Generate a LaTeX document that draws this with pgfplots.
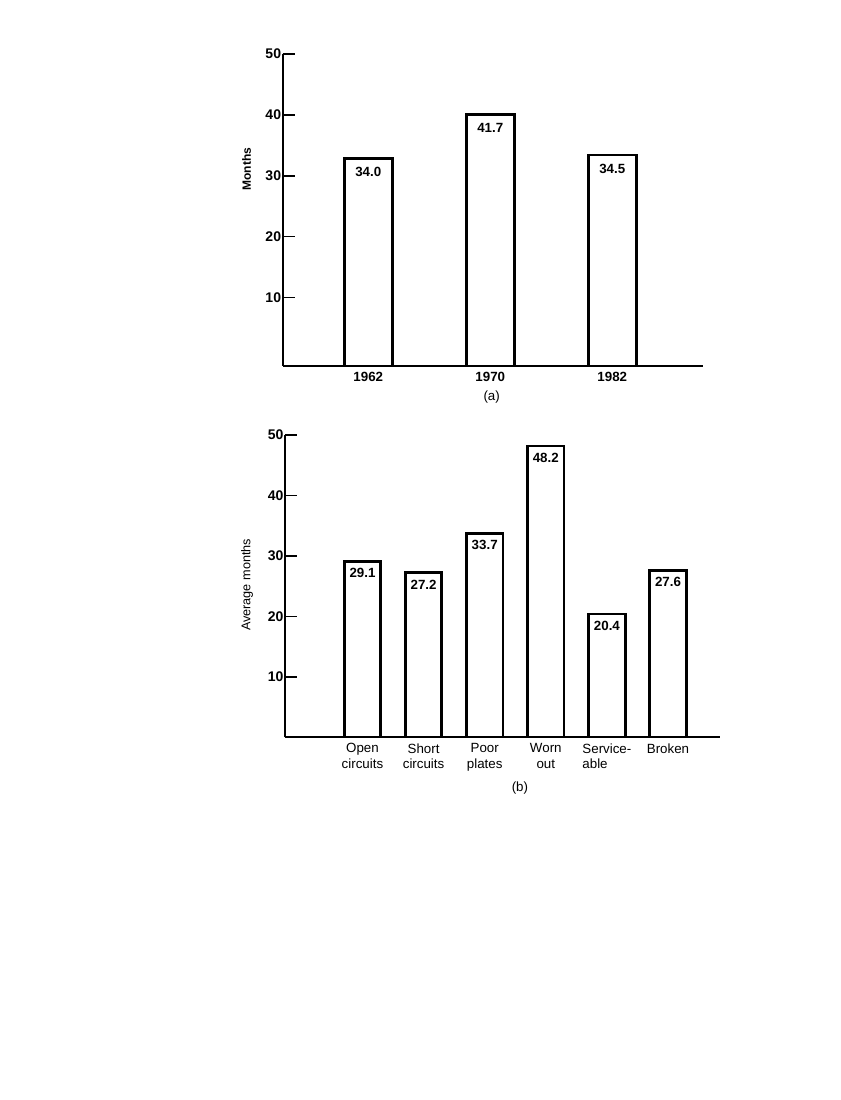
\documentclass[border=0pt]{standalone}
\usepackage{fontspec}
\setmainfont{Liberation Sans}
\usepackage{pgfplots}
\pgfplotsset{compat=1.18}
\tikzset{vlab/.style={font=\fontsize{10}{12}\selectfont\bfseries, anchor=north, inner sep=0pt}}
\begin{document}
\begin{tikzpicture}
\useasboundingbox (0pt,0pt) rectangle (630pt,-825pt);
\pgfplotsset{
  common/.style={
    scale only axis,
    axis on top,
    axis x line*=bottom,
    axis y line*=left,
    axis line style={line width=1.3pt, -},
    tick align=inside,
    major tick length=9pt,
    ytick={10,20,30,40,50},
    ytick style={line width=1.1pt, black},
    xtick style={draw=none},
    /pgf/number format/assume math mode=true,
    yticklabel style={font=\fontsize{10.5}{12}\selectfont\bfseries, inner sep=1pt},
    xticklabel style={inner sep=0pt, anchor=north, yshift=-4.5pt},
    xlabel style={font=\fontsize{10}{12}\selectfont, anchor=center},
  },
  barstyle/.style={draw=black, line width=2.1pt, fill=white, line join=miter, mark=none},
}
% ---------- (a) ----------
\begin{axis}[common,
  at={(212.0pt,-274.3pt)}, anchor=south west,
  width=315.45pt, height=233.8pt,
  xmin=0.298, xmax=3.746, ymin=-1.2, ymax=50,
  xtick={1,2,3}, xticklabels={1962,1970,1982},
  xticklabel style={font=\fontsize{10}{12}\selectfont\bfseries},
  ylabel={Months},
  ylabel style={at={(axis description cs:-0.0856,0.631)}, anchor=center, font=\fontsize{9}{11}\selectfont\bfseries},
  xlabel={(a)},
  xlabel style={at={(axis description cs:0.497,-0.0995)}},
]
\addplot[barstyle] coordinates {(0.803,-1.2) (0.803,32.8) (1.197,32.8) (1.197,-1.2)};
\addplot[barstyle] coordinates {(1.803,-1.2) (1.803,40.1) (2.197,40.1) (2.197,-1.2)};
\addplot[barstyle] coordinates {(2.803,-1.2) (2.803,33.4) (3.197,33.4) (3.197,-1.2)};
\node[vlab, yshift=-6.5pt] at (axis cs:1,32.8) {34.0};
\node[vlab, yshift=-6.5pt] at (axis cs:2,40.1) {41.7};
\node[vlab, yshift=-6.5pt] at (axis cs:3,33.4) {34.5};
\end{axis}
% ---------- (b) ----------
\begin{axis}[common,
  at={(213.75pt,-552.98pt)}, anchor=south west,
  width=326.25pt, height=226.7pt,
  xmin=-0.268, xmax=6.851, ymin=0, ymax=50,
  xtick={1,2,3,4,5,6},
  xticklabels={Open\\circuits, Short\\circuits, Poor\\plates, Worn\\out, Service-\\able\rule{1.78em}{0pt}, Broken},
  xticklabel style={font=\fontsize{10}{11.5}\selectfont, align=center},
  ylabel={Average months},
  ylabel style={at={(axis description cs:-0.0874,0.504)}, anchor=center, font=\fontsize{9.5}{11}\selectfont},
  xlabel={(b)},
  xlabel style={at={(axis description cs:0.540,-0.169)}},
]
\addplot[ybar, bar width=27.4pt, barstyle] coordinates {(1,29.1) (2,27.2) (3,33.7) (4,48.2) (5,20.4) (6,27.6)};
\node[vlab, yshift=-5pt] at (axis cs:1,29.1) {29.1};
\node[vlab, yshift=-5pt] at (axis cs:2,27.2) {27.2};
\node[vlab, yshift=-5pt] at (axis cs:3,33.7) {33.7};
\node[vlab, yshift=-5pt] at (axis cs:4,48.2) {48.2};
\node[vlab, yshift=-5pt] at (axis cs:5,20.4) {20.4};
\node[vlab, yshift=-5pt] at (axis cs:6,27.6) {27.6};
\end{axis}
\end{tikzpicture}
\end{document}
